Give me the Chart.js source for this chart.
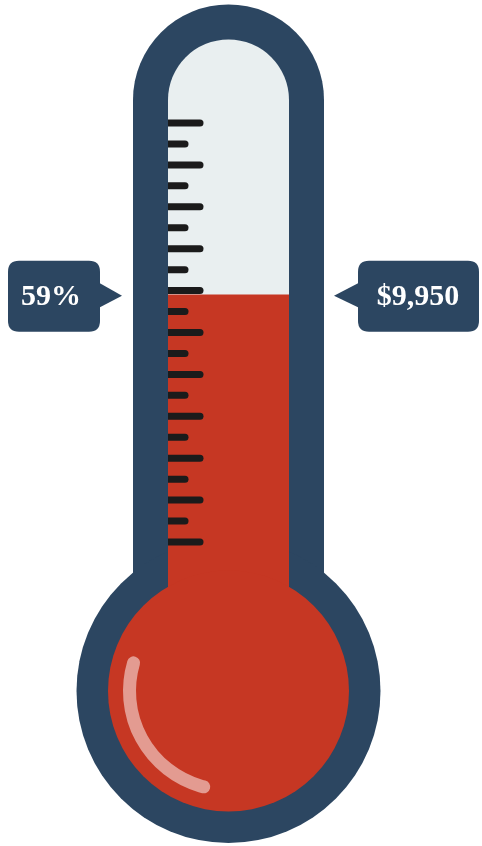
<!DOCTYPE html>
<html>
<head>
<meta charset="utf-8">
<style>
  html, body { margin: 0; padding: 0; background: #ffffff; }
  #wrap { width: 482px; height: 846px; position: relative; }
</style>
<script src="https://cdn.jsdelivr.net/npm/chart.js@4.4.1/dist/chart.umd.min.js"></script>
</head>
<body>
<div id="wrap"><canvas id="c" width="482" height="846"></canvas></div>
<script>
// ---- data ----
const categories = ['Raised'];
const percentValues = [59];
const percentLabels = ['59%'];
const amountLabels = ['$9,950'];
const tickValues = [0, 5, 10, 15, 20, 25, 30, 35, 40, 45, 50, 55, 60, 65, 70, 75, 80, 85, 90, 95, 100];
const majorTickValues = [0, 10, 20, 30, 40, 50, 60, 70, 80, 90, 100];

// ---- styles ----
const NAVY = '#2c4661';
const RED = '#c63723';
const GLASS = '#e9eff0';
const TICK = '#1b1b1b';
const HIGHLIGHT = 'rgba(255,255,255,0.5)';

function roundRect(ctx, x, y, w, h, r) {
  ctx.beginPath();
  ctx.moveTo(x + r, y);
  ctx.lineTo(x + w - r, y);
  ctx.quadraticCurveTo(x + w, y, x + w, y + r);
  ctx.lineTo(x + w, y + h - r);
  ctx.quadraticCurveTo(x + w, y + h, x + w - r, y + h);
  ctx.lineTo(x + r, y + h);
  ctx.quadraticCurveTo(x, y + h, x, y + h - r);
  ctx.lineTo(x, y + r);
  ctx.quadraticCurveTo(x, y, x + r, y);
  ctx.closePath();
}

const thermoPlugin = {
  id: 'thermo',
  beforeDatasetsDraw(chart) {
    const ctx = chart.ctx;
    const a = chart.chartArea;
    const yS = chart.scales.y;
    const innerL = a.left, innerR = a.right;
    const cx = (innerL + innerR) / 2;
    const innerRad = (innerR - innerL) / 2;
    const wall = 35;
    const outerRad = innerRad + wall;
    const topCy = yS.getPixelForValue(100) - 23;
    const bulbCy = 691;
    const bulbOuter = 152;
    const bulbInner = 120.5;
    const zeroY = yS.getPixelForValue(0);

    ctx.save();
    // outer navy shape
    ctx.fillStyle = NAVY;
    ctx.beginPath();
    ctx.arc(cx, topCy, outerRad, Math.PI, 0);
    ctx.lineTo(cx + outerRad, bulbCy - 100);
    ctx.lineTo(cx - outerRad, bulbCy - 100);
    ctx.closePath();
    ctx.fill();
    ctx.beginPath();
    ctx.arc(cx, bulbCy, bulbOuter, 0, Math.PI * 2);
    ctx.fill();

    // inner glass
    ctx.fillStyle = GLASS;
    ctx.beginPath();
    ctx.arc(cx, topCy, innerRad, Math.PI, 0);
    ctx.lineTo(innerR, zeroY);
    ctx.lineTo(innerL, zeroY);
    ctx.closePath();
    ctx.fill();

    // red bulb and neck below zero
    ctx.fillStyle = RED;
    ctx.fillRect(innerL, zeroY - 1, innerR - innerL, bulbCy - zeroY);
    ctx.beginPath();
    ctx.arc(cx, bulbCy, bulbInner, 0, Math.PI * 2);
    ctx.fill();
    ctx.restore();
  },
  afterDatasetsDraw(chart) {
    const ctx = chart.ctx;
    const a = chart.chartArea;
    const yS = chart.scales.y;
    const innerL = a.left, innerR = a.right;
    const cx = (innerL + innerR) / 2;
    const bulbCy = 691;

    ctx.save();
    // tick marks
    ctx.strokeStyle = TICK;
    ctx.lineWidth = 7;
    ctx.lineCap = 'round';
    tickValues.forEach(v => {
      const y = yS.getPixelForValue(v);
      const major = majorTickValues.includes(v);
      const len = major ? 32 : 17;
      ctx.beginPath();
      ctx.moveTo(innerL - 4, y);
      ctx.lineTo(innerL + len, y);
      ctx.stroke();
    });
    // re-cover tick start under the wall
    ctx.fillStyle = NAVY;
    ctx.fillRect(innerL - 8, yS.getPixelForValue(100) - 10, 8, yS.getPixelForValue(0) - yS.getPixelForValue(100) + 20);

    // bulb highlight
    ctx.strokeStyle = HIGHLIGHT;
    ctx.lineWidth = 13;
    ctx.lineCap = 'round';
    ctx.beginPath();
    ctx.arc(cx, bulbCy, 99, 196.5 * Math.PI / 180, 104.5 * Math.PI / 180, true);
    ctx.stroke();

    // callouts
    const level = yS.getPixelForValue(percentValues[0]);
    const boxH = 71, boxTop = level - 34;
    ctx.fillStyle = NAVY;
    // left box
    roundRect(ctx, 8, boxTop, 92, boxH, 11);
    ctx.fill();
    ctx.beginPath();
    ctx.moveTo(99, level - 12);
    ctx.lineTo(122, level + 1);
    ctx.lineTo(99, level + 13);
    ctx.closePath();
    ctx.fill();
    // right box
    roundRect(ctx, 358, boxTop, 121, boxH, 11);
    ctx.fill();
    ctx.beginPath();
    ctx.moveTo(359, level - 12);
    ctx.lineTo(334, level + 1);
    ctx.lineTo(359, level + 13);
    ctx.closePath();
    ctx.fill();

    ctx.fillStyle = '#ffffff';
    ctx.font = 'bold 30px "Liberation Serif", "Times New Roman", serif';
    ctx.textAlign = 'center';
    ctx.textBaseline = 'alphabetic';
    ctx.fillText(percentLabels[0], 51, level + 10);
    ctx.fillText(amountLabels[0], 418, level + 10);
    ctx.restore();
  }
};

new Chart(document.getElementById('c'), {
  type: 'bar',
  data: {
    labels: categories,
    datasets: [{
      data: percentValues,
      backgroundColor: RED,
      borderWidth: 0,
      barPercentage: 1,
      categoryPercentage: 1
    }]
  },
  options: {
    responsive: false,
    animation: false,
    devicePixelRatio: 1,
    layout: { padding: { left: 168, right: 193, top: 123, bottom: 304 } },
    scales: {
      x: { display: false },
      y: { display: false, min: 0, max: 100 }
    },
    plugins: { legend: { display: false }, tooltip: { enabled: false } }
  },
  plugins: [thermoPlugin]
});
</script>
</body>
</html>
